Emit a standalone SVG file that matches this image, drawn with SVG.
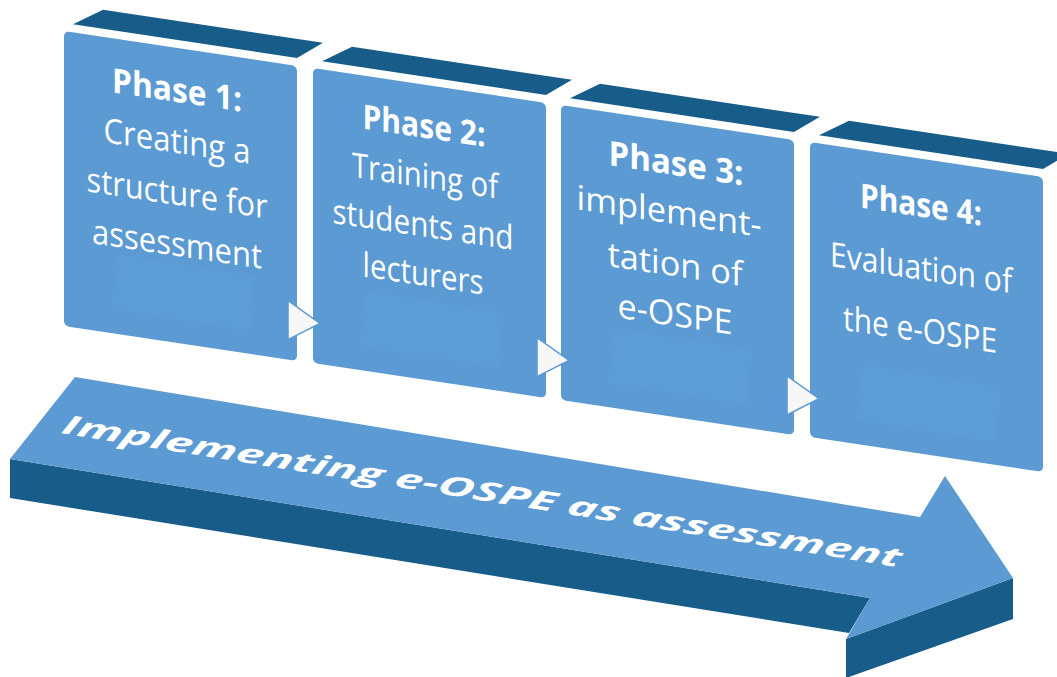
<svg xmlns="http://www.w3.org/2000/svg" width="1057" height="677" viewBox="0 0 1057 677">
  <defs>
    <style>
      .face{fill:#5B9AD2}
      .dark{fill:#185D89}
      .inner{fill:#5D9DD7}
      .lbl{font-family:"Open Sans","Liberation Sans",sans-serif;fill:#ffffff;text-anchor:middle;font-size:34px}
      .hd{font-weight:700}
      .tri{fill:#F7F7F7;stroke:#5B9AD2;stroke-width:1.5;stroke-linejoin:miter}
      .band{font-family:"Open Sans","Liberation Sans",sans-serif;font-weight:700;font-style:italic;font-size:46px;fill:#ffffff}
    </style>
    <!-- one phase card: dark top edge, front face, faint lower pad -->
    <g id="card">
      <polygon class="dark" points="9,-8 39,-27 259,-27 233,-8"/>
      <rect class="face" x="0" y="0" width="233" height="295" rx="5"/>
      <polygon class="inner" points="54,215 191,216 186,272 46,271"/>
    </g>
  </defs>

  <rect width="1057" height="677" fill="#ffffff"/>

  <!-- long 3D arrow underneath the phases -->
  <g id="timeline-arrow">
    <polygon class="dark" points="10,459 870,598 849,633 10,498"/>
    <polygon class="dark" points="846,639 1013,578 1013,619 846,678"/>
    <polygon class="face" points="75,377 920,517 945,476 1013,578 846,639 870,598 10,459"/>
    <text class="band" transform="matrix(1,0.16,-0.2,0.56,60,433)" textLength="838" lengthAdjust="spacingAndGlyphs">Implementing e-OSPE as assessment</text>
  </g>

  <g id="phase1" transform="translate(64,31) skewY(8.53)">
    <use href="#card"/>
    <text class="lbl hd" x="113" y="54" textLength="130" lengthAdjust="spacingAndGlyphs">Phase 1:</text>
    <text class="lbl" x="113" y="105" textLength="147" lengthAdjust="spacingAndGlyphs">Creating a</text>
    <text class="lbl" x="113" y="157" textLength="181" lengthAdjust="spacingAndGlyphs">structure for</text>
    <text class="lbl" x="113" y="208" textLength="170" lengthAdjust="spacingAndGlyphs">assessment</text>
  </g>

  <g id="phase2" transform="translate(313,68) skewY(8.53)">
    <use href="#card"/>
    <text class="lbl hd" x="111" y="53" textLength="123" lengthAdjust="spacingAndGlyphs">Phase 2:</text>
    <text class="lbl" x="112" y="103" textLength="146" lengthAdjust="spacingAndGlyphs">Training of</text>
    <text class="lbl" x="110" y="152" textLength="181" lengthAdjust="spacingAndGlyphs">students and</text>
    <text class="lbl" x="110" y="201" textLength="121" lengthAdjust="spacingAndGlyphs">lecturers</text>
  </g>

  <g id="phase3" transform="translate(561,105) skewY(8.53)">
    <use href="#card"/>
    <text class="lbl hd" x="115" y="53" textLength="135" lengthAdjust="spacingAndGlyphs">Phase 3:</text>
    <text class="lbl" x="108" y="102" textLength="185" lengthAdjust="spacingAndGlyphs">implement-</text>
    <text class="lbl" x="114" y="154" textLength="135" lengthAdjust="spacingAndGlyphs">tation of</text>
    <text class="lbl" x="114" y="204" textLength="115" lengthAdjust="spacingAndGlyphs">e-OSPE</text>
  </g>

  <g id="phase4" transform="translate(810,142) skewY(8.53)">
    <use href="#card"/>
    <text class="lbl hd" x="111" y="58" textLength="122" lengthAdjust="spacingAndGlyphs">Phase 4:</text>
    <text class="lbl" x="111" y="121" textLength="182" lengthAdjust="spacingAndGlyphs">Evaluation of</text>
    <text class="lbl" x="110" y="183" textLength="154" lengthAdjust="spacingAndGlyphs">the e-OSPE</text>
  </g>

  <!-- step arrows between cards -->
  <g id="connectors">
    <polygon class="tri" transform="translate(64,31) skewY(8.53)" points="224,236 256,254 224,275"/>
    <polygon class="tri" transform="translate(313,68) skewY(8.53)" points="224,236 256,254 224,275"/>
    <polygon class="tri" transform="translate(561,105) skewY(8.53)" points="226,237 258,255 226,276"/>
  </g>
</svg>
